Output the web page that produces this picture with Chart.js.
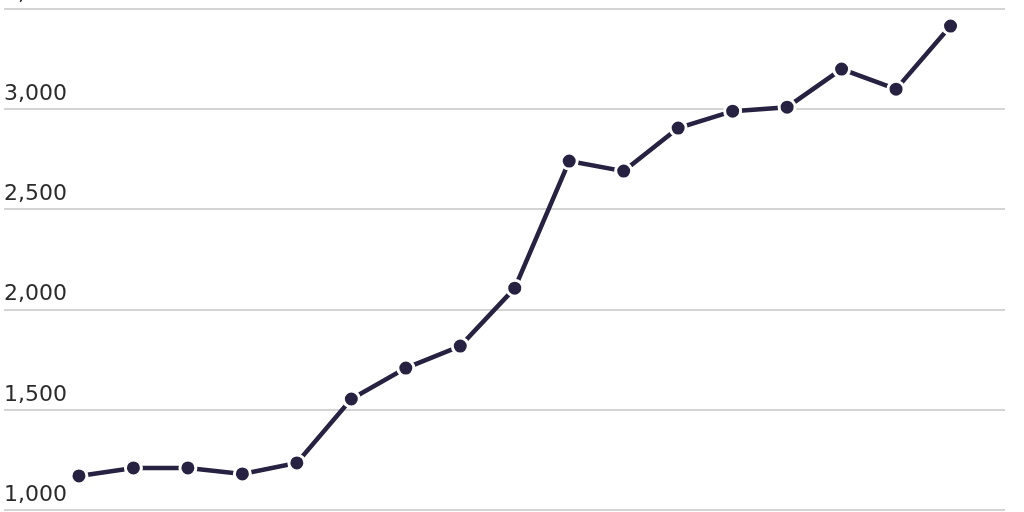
<!DOCTYPE html>
<html>
<head>
<meta charset="utf-8">
<script src="https://cdn.jsdelivr.net/npm/chart.js@4"></script>
<style>
  html, body { margin: 0; padding: 0; background: #fff; }
  #wrap { width: 1024px; height: 512px; }
</style>
</head>
<body>
<div id="wrap"><canvas id="c" width="1024" height="512"></canvas></div>
<script>
  // one point per period (x labels not shown)
  const periods = [0, 1, 2, 3, 4, 5, 6, 7, 8, 9, 10, 11, 12, 13, 14, 15, 16];
  const values = [1170, 1210, 1210, 1180, 1235, 1554, 1708, 1818, 2107,
                  2741, 2691, 2906, 2990, 3010, 3200, 3100, 3415];
  const yTicks = [1000, 1500, 2000, 2500, 3000, 3500];

  const LINE = "#272241";

  new Chart(document.getElementById("c"), {
    type: "line",
    data: {
      datasets: [{
        data: periods.map((p, i) => ({ x: p, y: values[i] })),
        borderColor: LINE,
        borderWidth: 4.5,
        backgroundColor: LINE,
        pointBackgroundColor: LINE,
        pointBorderColor: "#fff",
        pointBorderWidth: 3,
        pointRadius: 8,
        tension: 0,
        clip: false,
      }],
    },
    options: {
      responsive: false,
      animation: false,
      layout: { autoPadding: false, padding: { left: 4, right: 19, top: 9, bottom: 2 } },
      plugins: { legend: { display: false }, tooltip: { enabled: false } },
      scales: {
        x: {
          type: "linear", min: -1.376, max: 17,
          display: false,
        },
        y: {
          min: yTicks[0], max: yTicks[yTicks.length - 1],
          afterBuildTicks: s => { s.ticks = yTicks.map(v => ({ value: v })); },
          // mirrored labels sit inside the plot, so the axis takes no room
          afterFit: s => { s.width = 0; s.paddingTop = 0; s.paddingBottom = 0; },
          border: { display: false },
          grid: { color: "#d4d4d4", lineWidth: 2, drawTicks: false },
          ticks: {
            mirror: true, padding: 0, labelOffset: -15,
            color: "#2b2b2b",
            font: { family: "DejaVu Sans", size: 22 },
            callback: v => v.toLocaleString("en-US"),
          },
        },
      },
    },
  });
</script>
</body>
</html>
